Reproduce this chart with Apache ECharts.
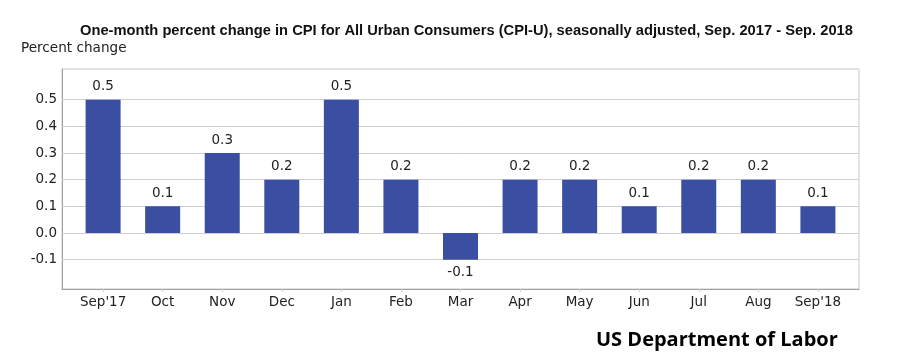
<!DOCTYPE html>
<html><head><meta charset="utf-8">
<script src="https://cdn.jsdelivr.net/npm/echarts@6/dist/echarts.min.js"></script>
<style>html,body{margin:0;padding:0;background:#fff}#c{width:897px;height:358px}</style>
</head><body><div id="c"></div>
<script>
var categories = ["Sep'17","Oct","Nov","Dec","Jan","Feb","Mar","Apr","May","Jun","Jul","Aug","Sep'18"];
var values = [0.5,0.1,0.3,0.2,0.5,0.2,-0.1,0.2,0.2,0.1,0.2,0.2,0.1];
var yTicks = [-0.1,0,0.1,0.2,0.3,0.4,0.5];
var titleText = "One-month percent change in CPI for All Urban Consumers (CPI-U), seasonally adjusted, Sep. 2017 - Sep. 2018";
var yName = "Percent change";
var footer = "US Department of Labor";

var chart = echarts.init(document.getElementById('c'), null, {renderer:'canvas'});
var xIdx = categories.map(function(c,i){return i;});
chart.setOption({
  animation:false,
  backgroundColor:'#fff',
  title:[
    {text:titleText,left:75,top:18,textStyle:{fontFamily:'Liberation Sans',fontWeight:'bold',fontSize:14.7,color:'#111'}},
    {text:yName,left:16,top:36,textStyle:{fontFamily:'DejaVu Sans',fontWeight:'normal',fontSize:13.6,color:'#222'}},
    {text:footer,left:591,top:325,textStyle:{fontFamily:'Open Sans',fontWeight:'bold',fontSize:20,color:'#000'}}
  ],
  grid:{left:62,right:38,top:69,bottom:69,show:true,borderColor:'#c8c8d0',borderWidth:1},
  xAxis:{type:'value',min:-0.69,max:12.69,
    axisLine:{show:true,onZero:false,lineStyle:{color:'#a0a0a0'}},
    axisTick:{show:true,customValues:xIdx,length:3,lineStyle:{color:'#d0d0d0'}},
    splitLine:{show:false},
    axisLabel:{customValues:xIdx,margin:6,fontFamily:'DejaVu Sans',fontSize:13.5,color:'#222',
      formatter:function(v){return categories[Math.round(v)];}}
  },
  yAxis:{type:'value',min:-0.21,max:0.615,
    axisLine:{show:true,onZero:false,lineStyle:{color:'#a0a0a0'}},
    axisTick:{show:false},
    splitLine:{show:false},
    axisLabel:{customValues:yTicks,margin:5,fontFamily:'DejaVu Sans',fontSize:13.5,color:'#222',
      formatter:function(v){return v.toFixed(1);}}
  },
  series:[{
    type:'bar',
    barWidth:35,
    itemStyle:{color:'#3b4fa2'},
    label:{show:true,position:'top',distance:6,fontFamily:'DejaVu Sans',fontSize:13.5,color:'#222',
      formatter:function(p){return p.value[1].toFixed(1);}},
    data:values.map(function(v,i){
      var d={value:[i,v]};
      if(v<0){d.label={position:'bottom'};}
      return d;
    }),
    markLine:{silent:true,symbol:'none',z:1,label:{show:false},
      lineStyle:{color:'#cdcdd4',width:1,type:'solid'},
      data:yTicks.map(function(t){return {yAxis:t};})}
  }]
});
</script></body></html>
